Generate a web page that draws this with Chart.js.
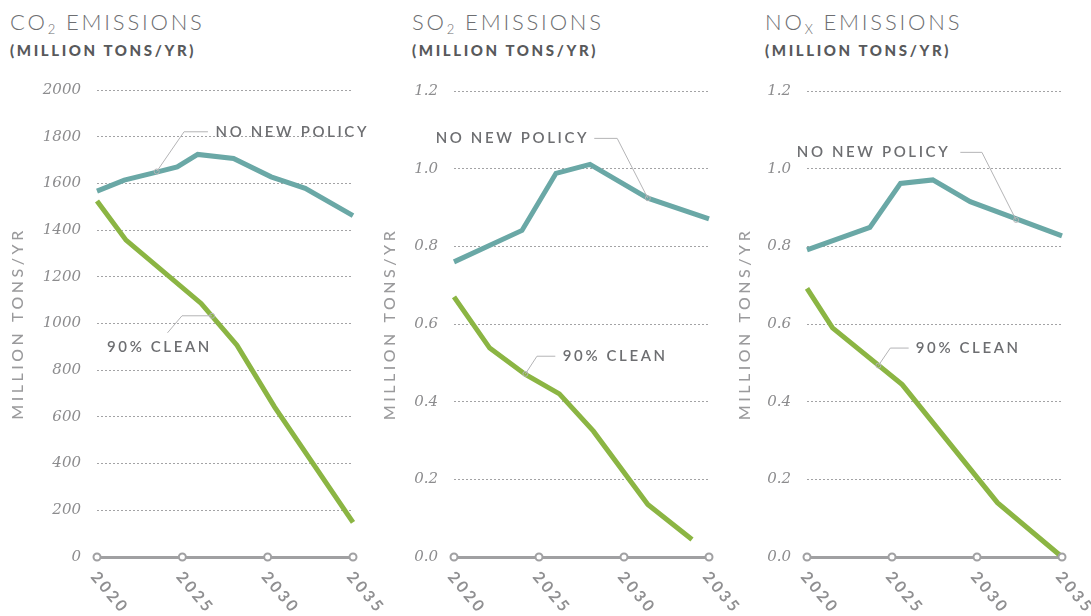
<!DOCTYPE html>
<html>
<head>
<meta charset="utf-8">
<script src="https://cdn.jsdelivr.net/npm/chart.js@4.4.1/dist/chart.umd.min.js"></script>
<style>
  body { margin: 0; width: 1091px; height: 616px; overflow: hidden; position: relative; background: #fff; font-family: Lato, sans-serif; }
  canvas { position: absolute; top: 0; }
  .title { position: absolute; top: 10px; font-weight: 300; font-size: 22px; line-height: 24px; letter-spacing: 2.8px; color: #6d6e71; white-space: nowrap; }
  .title sub { font-size: 13px; line-height: 0; vertical-align: -4px; letter-spacing: 2px; }
  .sub { position: absolute; top: 42px; font-weight: 900; font-size: 15px; line-height: 16px; letter-spacing: 2.6px; color: #58595b; white-space: nowrap; }
</style>
</head>
<body>
<div class="title" style="left:10px">CO<sub>2</sub> EMISSIONS</div>
<div class="sub" style="left:10px">(MILLION TONS/YR)</div>
<div class="title" style="left:412px">SO<sub>2</sub> EMISSIONS</div>
<div class="sub" style="left:412px">(MILLION TONS/YR)</div>
<div class="title" style="left:765px">NO<sub>X</sub> EMISSIONS</div>
<div class="sub" style="left:765px">(MILLION TONS/YR)</div>

<canvas id="co2" width="400" height="616" style="left:0px"></canvas>
<canvas id="so2" width="400" height="616" style="left:372px"></canvas>
<canvas id="nox" width="364" height="616" style="left:727px"></canvas>

<script>
// x tick labels (years)
const tickYears = [2020, 2025, 2030, 2035];

// CO2 (million tons/yr), vertices
const co2PolicyYears = [2020, 2021.6, 2023.5, 2024.7, 2025.9, 2028, 2030.2, 2032.2, 2035];
const co2Policy      = [1567, 1614, 1648, 1671, 1724, 1707, 1628, 1579, 1462];
const co2CleanYears  = [2020, 2021.7, 2026.1, 2028.2, 2030.4, 2035];
const co2Clean       = [1525, 1357, 1086, 907, 643, 148];

// SO2
const so2PolicyYears = [2020, 2024, 2026, 2028, 2031.4, 2035];
const so2Policy      = [0.76, 0.841, 0.988, 1.011, 0.924, 0.871];
const so2CleanYears  = [2020, 2022.1, 2024.2, 2026.2, 2028.2, 2031.4, 2034];
const so2Clean       = [0.67, 0.538, 0.47, 0.42, 0.324, 0.135, 0.045];

// NOx
const noxPolicyYears = [2020, 2023.7, 2025.5, 2027.4, 2029.6, 2035];
const noxPolicy      = [0.791, 0.849, 0.962, 0.971, 0.915, 0.827];
const noxCleanYears  = [2020, 2021.5, 2025.6, 2031.2, 2035];
const noxClean       = [0.692, 0.59, 0.444, 0.14, 0.0];

const TEAL = '#6aa8a6';
const GREEN = '#8bb543';
const GREY_TEXT = '#6d6e71';

const pairs = (xs, ys) => xs.map((x, i) => ({ x, y: ys[i] }));

// draws axis title, year labels, axis dots and the callouts
const decor = {
  id: 'decor',
  afterDatasetsDraw(chart, args, opts) {
    const { ctx, chartArea: area, scales: { x, y } } = chart;

    ctx.save();
    ctx.font = '500 16px Lato';
    ctx.letterSpacing = '3.5px';
    ctx.fillStyle = '#9a9a9c';
    ctx.translate(opts.yTitleX, (area.top + area.bottom) / 2);
    ctx.rotate(-Math.PI / 2);
    ctx.textAlign = 'center';
    ctx.textBaseline = 'middle';
    ctx.fillText('MILLION TONS/YR', 0, 0);
    ctx.restore();

    // year labels, slanted down to the right
    tickYears.forEach((yr) => {
      const px = x.getPixelForValue(yr);
      ctx.save();
      ctx.translate(px - 3, area.bottom + 17);
      ctx.rotate(50 * Math.PI / 180);
      ctx.font = 'bold 16px Lato';
      ctx.letterSpacing = '3px';
      ctx.fillStyle = '#8f8f91';
      ctx.textAlign = 'left';
      ctx.textBaseline = 'middle';
      ctx.fillText(String(yr), 0, 0);
      ctx.restore();

      ctx.save();
      ctx.beginPath();
      ctx.arc(px, area.bottom, 3.5, 0, Math.PI * 2);
      ctx.fillStyle = '#fff';
      ctx.fill();
      ctx.lineWidth = 2;
      ctx.strokeStyle = '#a0a0a2';
      ctx.stroke();
      ctx.restore();
    });

    // callouts
    opts.notes.forEach((n) => {
      const ax = x.getPixelForValue(n.anchor[0]);
      const ay = y.getPixelForValue(n.anchor[1]);
      ctx.save();
      ctx.strokeStyle = '#b4b4b6';
      ctx.lineWidth = 1;
      ctx.beginPath();
      ctx.moveTo(ax, ay);
      n.path.forEach((p) => ctx.lineTo(x.getPixelForValue(p[0]), y.getPixelForValue(p[1])));
      ctx.stroke();
      ctx.beginPath();
      ctx.arc(ax, ay, 2.5, 0, Math.PI * 2);
      ctx.stroke();

      ctx.font = '600 15px Lato';
      ctx.letterSpacing = '2.6px';
      ctx.fillStyle = GREY_TEXT;
      ctx.textAlign = n.align;
      ctx.textBaseline = 'middle';
      ctx.fillText(n.text, x.getPixelForValue(n.textAt[0]), y.getPixelForValue(n.textAt[1]));
      ctx.restore();
    });
  }
};

function makeChart(id, cfg) {
  return new Chart(document.getElementById(id), {
    type: 'line',
    data: {
      datasets: [
        { label: 'No new policy', data: cfg.policy, borderColor: TEAL },
        { label: '90% clean', data: cfg.clean, borderColor: GREEN },
      ],
    },
    options: {
      responsive: false,
      animation: false,
      borderWidth: 5,
      pointRadius: 0,
      clip: false,
      layout: { padding: { left: 0, top: cfg.top, right: cfg.padRight, bottom: 59 } },
      plugins: {
        legend: { display: false },
        tooltip: { enabled: false },
        decor: { yTitleX: 18, notes: cfg.notes },
      },
      scales: {
        x: {
          type: 'linear',
          min: 2020,
          max: 2035,
          ticks: { display: false },
          grid: { display: false },
          border: { display: true, color: '#a0a0a2', width: 3 },
          afterFit: (s) => { s.height = 0; },
        },
        y: {
          min: 0,
          max: cfg.max,
          ticks: {
            stepSize: cfg.step,
            padding: 16,
            color: '#8c8c8e',
            font: { family: 'DejaVu Serif', style: 'italic', size: 15 },
            callback: cfg.fmt,
          },
          grid: { color: '#a3a3a5', lineWidth: 1, drawTicks: false },
          border: { display: false, dash: [2, 2] },
          afterFit: (s) => { s.width = cfg.yWidth; },
        },
      },
    },
    plugins: [decor],
  });
}

makeChart('co2', {
  policy: pairs(co2PolicyYears, co2Policy),
  clean: pairs(co2CleanYears, co2Clean),
  max: 2000, step: 200, top: 90, yWidth: 97, padRight: 47,
  fmt: (v) => String(v),
  notes: [
    { text: 'NO NEW POLICY', anchor: [2023.5, 1651], path: [[2025.1, 1821], [2026.5, 1821]], textAt: [2026.95, 1821], align: 'left' },
    { text: '90% CLEAN', anchor: [2026.74, 1033], path: [[2024.98, 1033], [2024.13, 960]], textAt: [2020.59, 897], align: 'left' },
  ],
});

makeChart('so2', {
  policy: pairs(so2PolicyYears, so2Policy),
  clean: pairs(so2CleanYears, so2Clean),
  max: 1.2, step: 0.2, top: 91, yWidth: 82, padRight: 63,
  fmt: (v) => v.toFixed(1),
  notes: [
    { text: 'NO NEW POLICY', anchor: [2031.4, 0.924], path: [[2029.6, 1.078], [2028.25, 1.078]], textAt: [2027.95, 1.078], align: 'right' },
    { text: '90% CLEAN', anchor: [2024.2, 0.4715], path: [[2024.88, 0.517], [2025.96, 0.517]], textAt: [2026.4, 0.517], align: 'left' },
  ],
});

makeChart('nox', {
  policy: pairs(noxPolicyYears, noxPolicy),
  clean: pairs(noxCleanYears, noxClean),
  max: 1.2, step: 0.2, top: 91, yWidth: 80, padRight: 29,
  fmt: (v) => v.toFixed(1),
  notes: [
    { text: 'NO NEW POLICY', anchor: [2032.3, 0.868], path: [[2030.29, 1.042], [2029.02, 1.042]], textAt: [2028.43, 1.042], align: 'right' },
    { text: '90% CLEAN', anchor: [2024.2, 0.493], path: [[2024.9, 0.538], [2025.98, 0.538]], textAt: [2026.4, 0.538], align: 'left' },
  ],
});
</script>
</body>
</html>
